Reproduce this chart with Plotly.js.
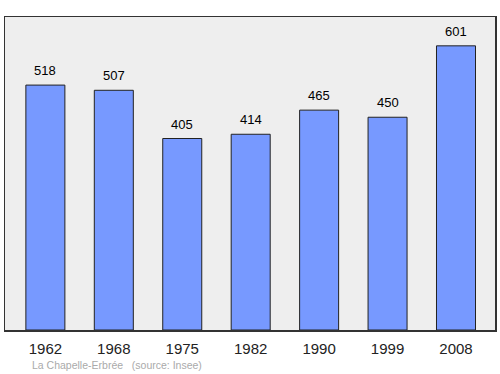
<!DOCTYPE html>
<html><head><meta charset="utf-8">
<script src="https://cdn.plot.ly/plotly-3.0.1.min.js"></script>
<style>html,body{margin:0;padding:0;background:#fff}#c{width:500px;height:374px}</style>
</head><body><div id="c"></div>
<script>
const years = ["1962","1968","1975","1982","1990","1999","2008"];
const population = [518,507,405,414,465,450,601];
const footer = "La Chapelle-Erbrée &nbsp;&nbsp;(source: Insee)";
const FONT = "Liberation Sans, Arial, sans-serif";

const valueLabels = years.map((yr, i) => ({
  x: i, y: population[i], xref: "x", yref: "y",
  text: String(population[i]), showarrow: false,
  yanchor: "bottom", yshift: 5,
  font: {family: FONT, size: 13, color: "#000"}
}));

Plotly.newPlot("c", [{
  type: "bar",
  x: years,
  y: population,
  marker: {color: "#7799ff", line: {color: "#222", width: 1}},
  width: 0.57,
  hoverinfo: "none"
}], {
  width: 500, height: 374,
  margin: {l: 5, r: 5, t: 17, b: 44},
  paper_bgcolor: "#fff",
  plot_bgcolor: "#eeeeee",
  showlegend: false,
  xaxis: {
    type: "category", range: [-0.59, 6.57],
    showline: true, mirror: true, linecolor: "#333", linewidth: 1.5,
    ticks: "outside", ticklen: 4, tickcolor: "rgba(0,0,0,0)", showgrid: false,
    tickfont: {family: FONT, size: 15, color: "#222"}
  },
  yaxis: {
    range: [0, 662], showticklabels: false, showgrid: false, zeroline: false,
    showline: true, mirror: true, linecolor: "#333", linewidth: 1.5, ticks: ""
  },
  annotations: valueLabels.concat([{
    text: footer, xref: "paper", yref: "paper", x: 0.05, y: -0.112,
    xanchor: "left", yanchor: "middle", showarrow: false,
    font: {family: FONT, size: 10.5, color: "#aaaaaa"}
  }])
}, {displayModeBar: false, staticPlot: true});
</script></body></html>
